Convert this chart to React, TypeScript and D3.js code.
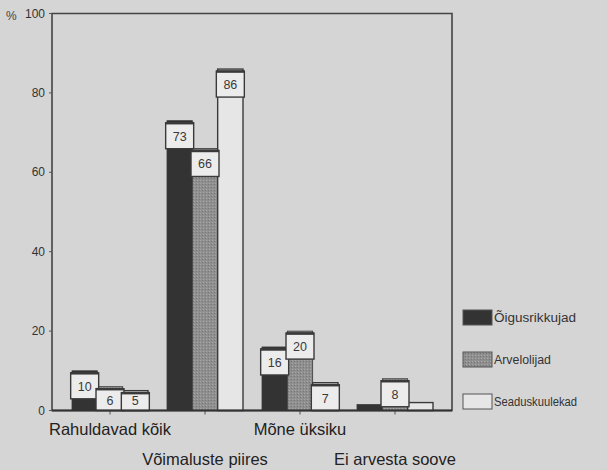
import React from "react";
import * as d3 from "d3";

const categories = ["Rahuldavad kõik", "Võimaluste piires", "Mõne üksiku", "Ei arvesta soove"];
const seriesNames = ["Õigusrikkujad", "Arvelolijad", "Seaduskuulekad"];
const oigusrikkujad = [10, 73, 16, 1.5];
const arvelolijad = [6, 66, 20, 8];
const seaduskuulekad = [5, 86, 7, 2];
const yTicks = [0, 20, 40, 60, 80, 100];

const W = 607, H = 470;
const left = 52, right = 452, top = 13.5, bottom = 410.5;
const colors = ["#333333", "#8c8c8c", "#e6e6e6"];

export default function App() {
  const series = [oigusrikkujad, arvelolijad, seaduskuulekad];
  const x0 = d3.scaleBand<string>().domain(categories).range([72, 433]).paddingInner(0.2).paddingOuter(0.0);
  const x1 = d3.scaleBand<number>().domain([0, 1, 2]).range([0, x0.bandwidth()]);
  const y = d3.scaleLinear().domain([0, 100]).range([bottom, top]);
  const bw = x1.bandwidth();

  return (
    <svg width={W} height={H} style={{ position: "absolute", left: 0, top: 0, background: "#d6d5d6" }}
      fontFamily="'Liberation Sans', Arial, sans-serif">
      <defs>
        <pattern id="stip" width="3" height="3" patternUnits="userSpaceOnUse">
          <rect width="3" height="3" fill="#8f8f8f" />
          <rect x="0" y="0" width="1" height="1" fill="#a8a8a8" />
          <rect x="2" y="1" width="1" height="1" fill="#777" />
        </pattern>
      </defs>
      <rect x={0} y={0} width={W} height={H} fill="#d6d5d6" />
      {/* frame */}
      <path d={`M${left},${bottom}V${top}H${right}V${bottom}Z`} fill="none" stroke="#444" strokeWidth={1.6} />
      {/* y tick labels */}
      {yTicks.map((t) => (
        <g key={t}>
          <text x={45} y={y(t) + 4} textAnchor="end" fontSize={12} fill="#333">{t}</text>
          <line x1={left - 3} x2={left} y1={y(t)} y2={y(t)} stroke="#555" strokeWidth={1} />
        </g>
      ))}
      <text x={6} y={20} fontSize={12} fill="#444">%</text>
      {/* bars */}
      {categories.map((c, ci) => (
        <g key={c} transform={`translate(${x0(c)},0)`}>
          {series.map((s, si) => (
            <rect key={si} x={x1(si)} y={y(s[ci])} width={bw} height={bottom - y(s[ci])}
              fill={si === 1 ? "url(#stip)" : colors[si]} stroke="#3a3a3a" strokeWidth={si === 2 ? 1.4 : 0.8} />
          ))}
          {series.map((s, si) => {
            if (s[ci] < 4) return null;
            const ty = y(s[ci]) + 2;
            const h = Math.min(26, bottom - ty);
            return (
              <g key={"l" + si} transform={`translate(${(x1(si) as number) + bw / 2},${ty})`}>
                <rect x={-14} y={0} width={28} height={h} fill="#ececec" stroke="#3a3a3a" strokeWidth={1.4} />
                <line x1={-14} x2={14} y1={0.5} y2={0.5} stroke="#3a3a3a" strokeWidth={2.5} />
                <text x={0} y={Math.min(18, h - 5)} textAnchor="middle" fontSize={12.5} fill="#3a3a3a">{s[ci]}</text>
              </g>
            );
          })}
          <line x1={x0.bandwidth() / 2} x2={x0.bandwidth() / 2} y1={bottom} y2={bottom + 4} stroke="#555" />
        </g>
      ))}
      <line x1={left} x2={right} y1={bottom} y2={bottom} stroke="#333" strokeWidth={1.8} />
      {/* x labels */}
      {categories.map((c, ci) => (
        <text key={c} x={(x0(c) as number) + x0.bandwidth() / 2} y={ci % 2 === 0 ? 435 : 465}
          textAnchor="middle" fontSize={16.5} fill="#222">{c}</text>
      ))}
      {/* legend */}
      {seriesNames.map((n, i) => (
        <g key={n} transform={`translate(463,${310 + i * 42})`}>
          <rect x={0} y={0} width={29} height={15} fill={i === 1 ? "url(#stip)" : colors[i]} stroke="#555" strokeWidth={1} />
          <text x={31} y={12} fontSize={12.5} fill="#333" textLength={i === 0 ? 82 : i === 1 ? 57 : 83} lengthAdjust="spacingAndGlyphs">{n}</text>
        </g>
      ))}
    </svg>
  );
}
